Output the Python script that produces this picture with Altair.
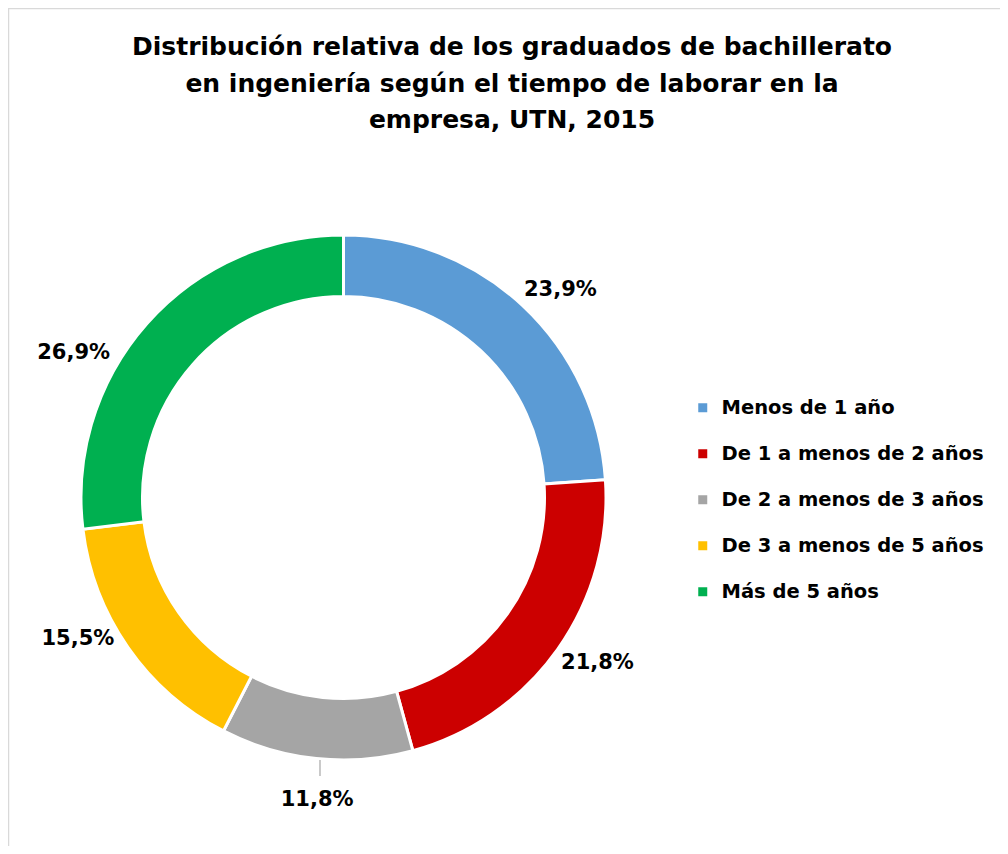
import math
import altair as alt
import pandas as pd

categories = ["Menos de 1 año", "De 1 a menos de 2 años", "De 2 a menos de 3 años",
              "De 3 a menos de 5 años", "Más de 5 años"]
values = [23.9, 21.8, 11.8, 15.5, 26.9]
labels = ["23,9%", "21,8%", "11,8%", "15,5%", "26,9%"]
colors = ["#5B9BD5", "#CC0000", "#A5A5A5", "#FFC000", "#00B050"]
title_lines = ["Distribución relativa de los graduados de bachillerato",
               "en ingeniería según el tiempo de laborar en la",
               "empresa, UTN, 2015"]

df = pd.DataFrame({"cat": categories, "value": values, "label": labels,
                   "order": list(range(len(categories)))})

FONT = "DejaVu Sans"
W, H = 992, 838
CX, CY = 335.5, 489.5
R_OUT, R_IN = 262.5, 201
R_LAB = 303

base = alt.Chart(df)

color_enc = alt.Color("cat:N", sort=categories,
                      scale=alt.Scale(domain=categories, range=colors),
                      legend=alt.Legend(title=None, orient="none", legendX=685, legendY=390,
                                        direction="vertical", symbolType="square",
                                        symbolSize=81, symbolStrokeWidth=0,
                                        labelFont=FONT, labelFontSize=19.5,
                                        labelFontWeight="bold", labelColor="black",
                                        labelOffset=9, rowPadding=25, padding=0,
                                        labelLimit=400))

donut = base.mark_arc(innerRadius=R_IN, outerRadius=R_OUT, stroke="white",
                      strokeWidth=3).encode(
    theta=alt.Theta("value:Q", stack=True),
    color=color_enc,
    order=alt.Order("order:Q"),
    x=alt.value(CX), y=alt.value(CY),
)

# label offsets (style tweaks to mimic Excel "best fit")
offsets = {
    "Menos de 1 año": (10, 14),
    "De 1 a menos de 2 años": (7, -10),
    "De 2 a menos de 3 años": (5, 1),
    "De 3 a menos de 5 años": (-17, -32),
    "Más de 5 años": (-43, 56),
}

lab_base = base.transform_window(
    cum="sum(value)", sort=[alt.SortField("order")], frame=[None, 0]
).transform_joinaggregate(total="sum(value)").transform_calculate(
    mid="(datum.cum - datum.value/2) / datum.total * 2 * PI"
)

label_layers = []
for cat in categories:
    dx, dy = offsets[cat]
    label_layers.append(
        lab_base.transform_filter(alt.datum.cat == cat).mark_text(
            font=FONT, fontSize=21, fontWeight="bold", color="black",
            dx=dx, dy=dy, align="center", baseline="middle"
        ).encode(
            theta=alt.Theta("mid:Q", scale=None),
            radius=alt.value(R_LAB),
            text="label:N",
            x=alt.value(CX), y=alt.value(CY),
        )
    )

leader = base.transform_filter(alt.datum.order == 0).mark_rule(
    color="#A6A6A6", strokeWidth=1.2
).encode(x=alt.value(312), y=alt.value(752), y2=alt.value(768))

title = base.transform_filter(alt.datum.order == 0).mark_text(
    font=FONT, fontSize=25, fontWeight="bold", color="black",
    align="center", baseline="middle", lineHeight=36.5
).encode(x=alt.value(504), y=alt.value(39), text=alt.value(title_lines))

frame_top = base.transform_filter(alt.datum.order == 0).mark_rule(
    color="#D9D9D9", strokeWidth=1.5
).encode(x=alt.value(0), x2=alt.value(W), y=alt.value(0.5))
frame_left = base.transform_filter(alt.datum.order == 0).mark_rule(
    color="#D9D9D9", strokeWidth=1.5
).encode(x=alt.value(0.5), y=alt.value(0), y2=alt.value(H))

chart = alt.layer(frame_top, frame_left, donut, *label_layers, leader, title).properties(
    width=W, height=H, autosize=alt.AutoSizeParams(type="none"), padding=0
).configure_view(stroke=None).configure(background="white")

chart.save("out.html", embed_options={"renderer": "svg", "actions": False})
